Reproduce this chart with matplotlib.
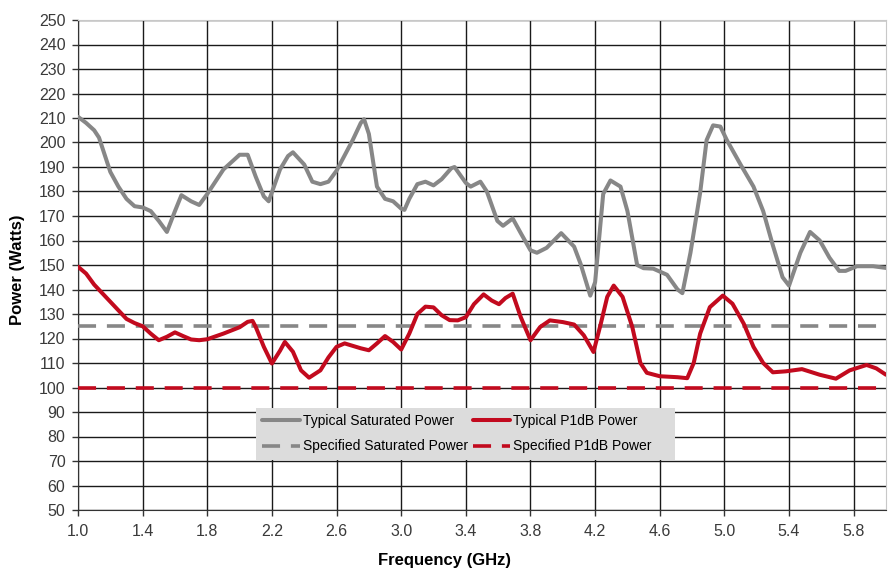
import matplotlib
matplotlib.use("Agg")
import matplotlib.pyplot as plt
from matplotlib.patches import Rectangle
import numpy as np

plt.rcParams['font.family'] = ['Liberation Sans', 'DejaVu Sans']

# Typical Saturated Power
sat_x = [1.00, 1.05, 1.10, 1.13, 1.20, 1.25, 1.30, 1.35, 1.40, 1.45, 1.50, 1.55, 1.60, 1.64,
         1.70, 1.75, 1.80, 1.90, 2.00, 2.05, 2.10, 2.15, 2.18, 2.25, 2.30, 2.33, 2.40, 2.45,
         2.50, 2.55, 2.60, 2.70, 2.75, 2.77, 2.80, 2.85, 2.90, 2.95, 3.00, 3.02, 3.05, 3.10,
         3.15, 3.20, 3.25, 3.31, 3.33, 3.40, 3.43, 3.49, 3.53, 3.595, 3.63, 3.69, 3.74, 3.80,
         3.84, 3.90, 3.99, 4.07, 4.11, 4.17, 4.20, 4.25, 4.295, 4.357, 4.40, 4.46, 4.50, 4.56,
         4.645, 4.71, 4.74, 4.79, 4.85, 4.89, 4.93, 4.975, 5.015, 5.10, 5.18, 5.24, 5.30, 5.36,
         5.40, 5.47, 5.53, 5.59, 5.65, 5.71, 5.75, 5.82, 5.92, 6.00]
sat_y = [210.5, 208, 205, 202, 188, 182, 177, 174, 173.5, 172, 168, 163.5, 172, 178.5,
         176, 174.5, 179, 189, 195, 195, 186, 178, 176, 189, 194.5, 196, 191, 184,
         183, 184, 188.5, 201, 208, 209.5, 203.5, 182, 177, 176, 173, 172.5, 177, 183,
         184, 182.5, 185, 189.5, 190, 183.5, 182, 184, 180, 168, 166, 169, 163, 156,
         155, 157, 163, 157.5, 150.5, 137.5, 143, 179, 184.5, 182, 172, 150, 148.7, 148.5,
         146, 140, 138.5, 155, 179.5, 201, 207, 206.5, 201, 191, 182, 172, 158, 145,
         141.6, 155, 163.5, 160, 153, 147.6, 147.6, 149.5, 149.5, 148.8]

# Typical P1dB Power
p1_x = [1.00, 1.05, 1.10, 1.20, 1.30, 1.35, 1.40, 1.45, 1.50, 1.55, 1.60, 1.65, 1.70, 1.75,
        1.80, 1.90, 2.00, 2.05, 2.08, 2.10, 2.15, 2.20, 2.25, 2.28, 2.33, 2.38, 2.43, 2.50,
        2.55, 2.60, 2.65, 2.70, 2.75, 2.80, 2.85, 2.90, 2.95, 3.00, 3.05, 3.10, 3.15, 3.20,
        3.25, 3.30, 3.35, 3.40, 3.45, 3.51, 3.56, 3.605, 3.645, 3.69, 3.74, 3.80, 3.86, 3.92,
        4.00, 4.07, 4.13, 4.19, 4.235, 4.275, 4.315, 4.37, 4.43, 4.48, 4.52, 4.60, 4.71, 4.77,
        4.81, 4.85, 4.91, 4.99, 5.05, 5.12, 5.18, 5.24, 5.30, 5.38, 5.48, 5.59, 5.69, 5.775,
        5.88, 5.94, 6.00]
p1_y = [149.3, 146.5, 142, 135, 128, 126.3, 125, 122, 119.3, 120.7, 122.5, 121, 119.6, 119.3,
        119.7, 122, 124.6, 126.8, 127.2, 124.7, 116.6, 109.8, 115, 118.6, 114.6, 107, 104, 107,
        112.3, 116.6, 118, 117, 116, 115.2, 118, 121, 118.6, 115.5, 122, 130, 133, 132.7,
        129.5, 127.5, 127.4, 128.7, 134, 138, 135.5, 134, 136.5, 138.3, 128.7, 119.3, 124.7, 127.4,
        126.7, 125.7, 121.3, 114.5, 126, 137, 141.6, 137, 124.7, 110, 106, 104.6, 104.2, 103.8,
        110, 122, 132.8, 137.5, 134.2, 126, 116.6, 110, 106.2, 106.6, 107.5, 105.2, 103.6, 107,
        109.2, 107.8, 105.2]

spec_sat = 125
spec_p1 = 100

x_ticks = [1.0, 1.4, 1.8, 2.2, 2.6, 3.0, 3.4, 3.8, 4.2, 4.6, 5.0, 5.4, 5.8]
y_ticks = list(range(50, 251, 10))

GRAY = '#878787'
RED = '#c20a1e'

fig = plt.figure(figsize=(8.91, 5.70), dpi=100)
ax = fig.add_axes([78/891, 1-510/570, (886-78)/891, (510-20)/570])

ax.plot(sat_x, sat_y, color=GRAY, lw=2.9, solid_joinstyle='round', solid_capstyle='round',
        label='Typical Saturated Power', zorder=4)
ax.axhline(spec_sat, color=GRAY, lw=2.6, dashes=(5.0, 3.0), label='Specified Saturated Power', zorder=3)
ax.plot(p1_x, p1_y, color=RED, lw=2.9, solid_joinstyle='round', solid_capstyle='round',
        label='Typical P1dB Power', zorder=4)
ax.axhline(spec_p1, color=RED, lw=2.6, dashes=(5.0, 3.0), label='Specified P1dB Power', zorder=3)

ax.set_xlim(1.0, 6.0)
ax.set_ylim(50, 250)
ax.set_xticks(x_ticks)
ax.set_xticklabels([f"{v:.1f}" for v in x_ticks])
ax.set_yticks(y_ticks)
ax.grid(True, color='#1a1a1a', lw=1.0, zorder=1)
ax.set_axisbelow(True)
ax.tick_params(axis='both', labelsize=11.5, labelcolor='#3a3a3a', length=4, width=1,
               color='#333333', direction='out')
ax.tick_params(axis='y', pad=5)
ax.tick_params(axis='x', pad=6)
for s in ['top', 'right']:
    ax.spines[s].set_color('#c8c8c8')
for s in ['left', 'bottom']:
    ax.spines[s].set_color('#333333')

fig.text(18/891, 1-270/570, 'Power (Watts)', rotation=90, ha='center', va='center',
         fontsize=12, fontweight='bold')
fig.text(444/891, 1-560/570, 'Frequency (GHz)', ha='center', va='center',
         fontsize=12, fontweight='bold')

# legend background box
bx0, bx1, by0, by1 = 256, 675, 408, 460
ax.add_patch(Rectangle(((bx0-78)/808, (510-by1)/490), (bx1-bx0)/808, (by1-by0)/490,
                       transform=ax.transAxes, facecolor='#dcdcdc', edgecolor='none',
                       zorder=5))

h, l = ax.get_legend_handles_labels()
leg = ax.legend(h, l, ncol=2,
                loc='upper left', bbox_to_anchor=((256-78)/808, (510-408)/490),
                borderaxespad=0, frameon=False, fontsize=10, handlelength=2.7,
                handletextpad=0.25, columnspacing=0.3, labelspacing=0.8,
                borderpad=0.45)
leg.set_zorder(6)

fig.savefig('out.png', dpi=100)
